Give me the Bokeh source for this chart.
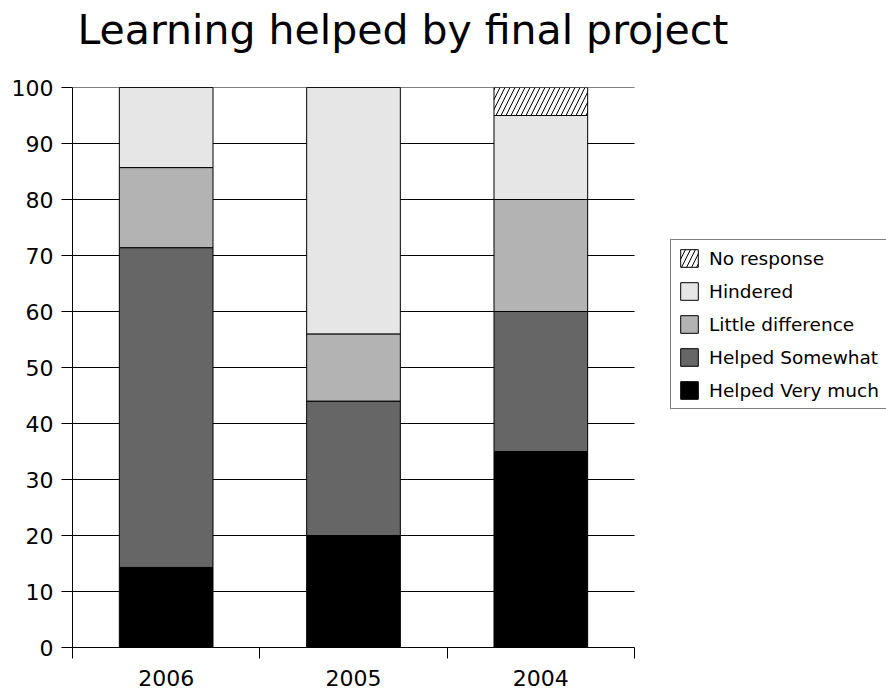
from bokeh.plotting import figure
from bokeh.models import (Range1d, FixedTicker, Legend, LegendItem, LinearAxis, Title)
from bokeh.embed import file_html
from bokeh.resources import INLINE

years = ["2006", "2005", "2004"]
series = ["Helped Very much", "Helped Somewhat", "Little difference", "Hindered", "No response"]
helped_very_much = [14.3, 20.0, 35.0]
helped_somewhat = [57.1, 24.0, 25.0]
little_difference = [14.3, 12.0, 20.0]
hindered = [14.3, 44.0, 15.0]
no_response = [0.0, 0.0, 5.0]
colors = ["#000000", "#666666", "#b3b3b3", "#e6e6e6", "#ffffff"]
y_ticks = list(range(0, 101, 10))
title_text = "Learning helped by final project"

FONT = "DejaVu Sans"
W, H = 886, 691
LEFT, TOP, BOTTOM = 72, 87, 44
PLOT_W = 562  # pixel width of the category area
n = len(years)
x_end = n * (W - LEFT) / PLOT_W

p = figure(width=W, height=H, output_backend="svg", toolbar_location=None,
           x_range=Range1d(0, x_end), y_range=Range1d(0, 100),
           x_axis_type=None, y_axis_type=None,
           min_border_left=LEFT, min_border_right=0, min_border_top=TOP, min_border_bottom=BOTTOM)
p.title = None
p.outline_line_color = None
p.background_fill_color = "white"
p.border_fill_color = "white"

# spacer between the title and the plot area
spacer = Title(text=" ", text_font_size="1px", standoff=28)
p.add_layout(spacer, "above")
title = Title(text=title_text, text_font=FONT, text_font_size="41px",
              text_font_style="normal", text_color="#000000",
              align="left", vertical_align="bottom", offset=5, standoff=6)
p.add_layout(title, "above")

# axes
yaxis = LinearAxis(ticker=FixedTicker(ticks=y_ticks, minor_ticks=[]))
yaxis.major_label_text_font = FONT
yaxis.major_label_text_font_size = "22px"
yaxis.major_label_text_color = "#000000"
yaxis.major_tick_out = 11
yaxis.major_tick_in = 0
yaxis.major_tick_line_color = "#000000"
yaxis.axis_line_color = "#000000"
yaxis.major_label_standoff = 8
p.add_layout(yaxis, "left")

centers = [i + 0.5 for i in range(n)]
bounds = [float(i) for i in range(n + 1)]
xaxis = LinearAxis(ticker=FixedTicker(ticks=centers, minor_ticks=bounds), bounds=(0, n))
xaxis.major_label_overrides = {c: y for c, y in zip(centers, years)}
xaxis.major_label_text_font = FONT
xaxis.major_label_text_font_size = "22px"
xaxis.major_label_text_color = "#000000"
xaxis.major_tick_line_color = None
xaxis.minor_tick_out = 11
xaxis.minor_tick_in = 0
xaxis.minor_tick_line_color = "#000000"
xaxis.axis_line_color = "#000000"
xaxis.major_label_standoff = 11
p.add_layout(xaxis, "below")

# horizontal grid lines limited to the category area
grid_y = y_ticks[1:]
p.segment(x0=[0] * len(grid_y), x1=[n] * len(grid_y), y0=grid_y, y1=grid_y,
          line_color="#000000", line_width=1, level="underlay")

data = [helped_very_much, helped_somewhat, little_difference, hindered, no_response]
bottom = [0.0] * n
renderers = []
for name, vals, col in zip(series, data, colors):
    top = [b + v for b, v in zip(bottom, vals)]
    kw = {}
    if name == "No response":
        kw = dict(hatch_pattern="/", hatch_color="#000000", hatch_scale=10, hatch_weight=1)
    r = p.vbar(x=centers, bottom=bottom, top=top, width=0.5, fill_color=col,
               line_color="#000000", line_width=1, **kw)
    renderers.append((name, r))
    bottom = top

items = [LegendItem(label=nm, renderers=[r]) for nm, r in reversed(renderers)]
legend = Legend(items=items, location=(598, 238))
legend.label_text_font = FONT
legend.label_text_font_size = "18.5px"
legend.label_text_color = "#000000"
legend.glyph_width = 22
legend.glyph_height = 22
legend.label_height = 22
legend.spacing = 11
legend.padding = 7
legend.margin = 0
legend.label_standoff = 9
legend.border_line_color = "#000000"
legend.border_line_width = 1
legend.background_fill_color = "white"
legend.background_fill_alpha = 1.0
p.add_layout(legend, "center")

open("out.html", "w").write(file_html(p, INLINE))
